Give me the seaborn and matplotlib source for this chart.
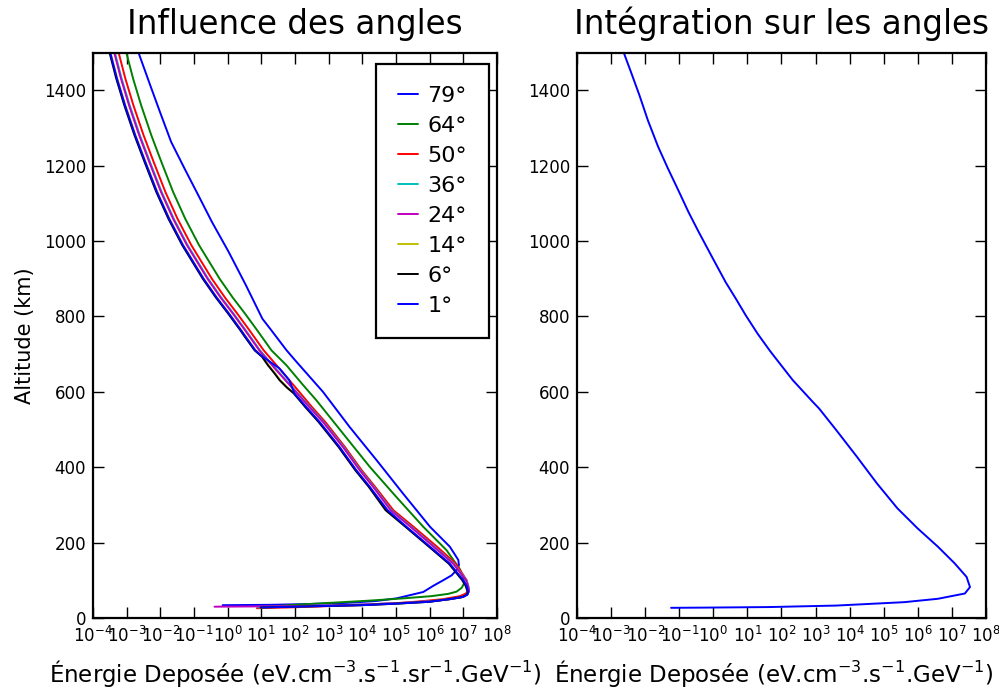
import numpy as np
import pandas as pd
import matplotlib
matplotlib.use("Agg")
import matplotlib.pyplot as plt
import seaborn as sns
from matplotlib.ticker import FixedLocator, NullLocator, LogFormatterMathtext

# ---------------- data (altitude in km, log10 of deposited energy) ----------------
angle_labels = ["79°", "64°", "50°", "36°", "24°", "14°", "6°", "1°"]
angle_colors = ["#0000ff", "#008000", "#ff0000", "#00bfbf", "#bf00bf", "#bfbf00", "#000000", "#0000ff"]

alt_79 = [1500, 1413, 1342, 1263, 1192, 1121, 1051, 971, 883, 794, 764, 710, 684, 600, 507, 419, 330, 242, 189, 154,
          140, 127, 113, 100, 85, 69, 52, 45, 40, 37, 35, 34]
le_79 = [-2.65, -2.30, -2.01, -1.68, -1.28, -0.87, -0.47, 0.03, 0.54, 1.03, 1.29, 1.75, 2.00, 2.83, 3.62, 4.42, 5.21, 6.01, 6.60, 6.85,
         6.87, 6.80, 6.65, 6.40, 6.10, 5.81, 5.01, 4.40, 3.50, 2.40, 1.30, -0.15]

alt_64 = [1500, 1431, 1360, 1281, 1210, 1130, 1059, 989, 900, 850, 808, 764, 710, 671, 620, 578, 490, 401, 321, 242,
          180, 129, 105, 91, 80, 70, 64, 58, 52, 46, 40, 35, 30, 28]
le_64 = [-3.01, -2.81, -2.57, -2.27, -1.97, -1.62, -1.26, -0.85, -0.24, 0.15, 0.51, 0.87, 1.30, 1.74, 2.22, 2.63, 3.42, 4.22, 5.01, 5.81,
         6.50, 6.90, 7.00, 7.02, 6.95, 6.80, 6.55, 6.05, 5.20, 4.20, 3.00, 2.00, 1.20, 0.90]

alt_50 = [1500, 1431, 1360, 1281, 1210, 1130, 1059, 989, 900, 850, 808, 764, 710, 660, 610, 560, 520, 454, 392, 348,
          286, 242, 189, 144, 100, 85, 75, 65, 58, 50, 44, 40, 35, 31, 28, 26]
le_50 = [-3.24, -3.04, -2.80, -2.50, -2.20, -1.85, -1.49, -1.08, -0.47, -0.08, 0.28, 0.64, 1.07, 1.55, 2.03, 2.50, 2.90, 3.48, 3.98, 4.38,
         4.92, 5.52, 6.22, 6.78, 7.10, 7.14, 7.15, 7.08, 6.90, 6.40, 5.70, 5.10, 4.00, 2.83, 1.80, 0.87]

alt_36 = [1500, 1431, 1360, 1281, 1210, 1130, 1059, 989, 900, 850, 808, 764, 710, 660, 610, 560, 520, 454, 392, 348,
          286, 242, 189, 144, 100, 85, 72, 62, 55, 50, 45, 40, 36, 33, 30, 28]
le_36 = [-3.35, -3.15, -2.91, -2.61, -2.31, -1.96, -1.60, -1.19, -0.58, -0.19, 0.17, 0.53, 0.96, 1.44, 1.94, 2.44, 2.85, 3.44, 3.94, 4.34,
         4.86, 5.45, 6.14, 6.72, 7.09, 7.15, 7.17, 7.12, 6.95, 6.60, 6.10, 5.20, 4.10, 2.80, 1.60, 0.90]

alt_24 = [1500, 1431, 1360, 1281, 1210, 1130, 1059, 989, 900, 850, 808, 764, 710, 660, 610, 560, 520, 454, 392, 348,
          286, 242, 189, 144, 100, 85, 72, 62, 55, 50, 45, 40, 36, 33, 31, 30]
le_24 = [-3.37, -3.17, -2.93, -2.63, -2.33, -1.98, -1.62, -1.21, -0.60, -0.21, 0.15, 0.51, 0.94, 1.42, 1.92, 2.42, 2.83, 3.42, 3.92, 4.32,
         4.84, 5.43, 6.12, 6.70, 7.08, 7.14, 7.17, 7.12, 6.95, 6.60, 6.10, 5.20, 4.10, 2.80, 1.30, -0.39]

alt_14 = [1500, 1431, 1360, 1281, 1210, 1130, 1059, 989, 900, 850, 808, 764, 746, 710, 693, 670, 649, 631, 612, 596,
          560, 520, 454, 392, 348, 286, 242, 189, 144, 100, 85, 69, 62, 56, 50, 43, 38, 34, 30, 28]
le_14 = [-3.48, -3.28, -3.04, -2.74, -2.44, -2.09, -1.73, -1.32, -0.71, -0.32, 0.04, 0.40, 0.54, 0.83, 1.04, 1.22, 1.41, 1.56, 1.77, 1.98,
         2.32, 2.72, 3.31, 3.81, 4.21, 4.71, 5.30, 6.00, 6.59, 6.99, 7.09, 7.14, 7.11, 6.99, 6.59, 5.99, 4.99, 3.99, 1.99, 0.99]

alt_6 = [1500, 1431, 1360, 1281, 1210, 1130, 1059, 989, 900, 850, 808, 764, 746, 710, 693, 670, 649, 631, 612, 596,
         560, 520, 454, 392, 348, 286, 242, 189, 144, 100, 85, 69, 62, 56, 50, 43, 38, 34, 30, 28]
le_6 = [-3.51, -3.31, -3.07, -2.77, -2.47, -2.12, -1.76, -1.35, -0.74, -0.35, 0.01, 0.37, 0.51, 0.80, 1.02, 1.20, 1.39, 1.54, 1.75, 1.96,
        2.30, 2.70, 3.29, 3.79, 4.19, 4.69, 5.28, 5.98, 6.57, 6.97, 7.07, 7.13, 7.10, 6.98, 6.58, 5.98, 4.98, 3.98, 1.98, 0.98]

alt_1 = [1500, 1431, 1360, 1281, 1210, 1130, 1059, 989, 900, 850, 808, 764, 746, 710, 693, 662, 631, 596, 560, 520,
         454, 392, 348, 286, 242, 189, 144, 100, 85, 69, 62, 56, 50, 43, 38, 34, 30, 28]
le_1 = [-3.49, -3.29, -3.05, -2.75, -2.45, -2.10, -1.74, -1.33, -0.72, -0.33, 0.03, 0.39, 0.53, 0.82, 1.04, 1.54, 1.83, 1.98, 2.33, 2.73,
        3.32, 3.82, 4.22, 4.75, 5.31, 6.01, 6.60, 7.00, 7.10, 7.15, 7.12, 7.00, 6.60, 6.00, 5.00, 4.00, 2.00, 1.00]

alt_int = [1500, 1449, 1387, 1320, 1250, 1192, 1135, 1077, 1024, 958, 891, 847, 803, 754, 710, 697, 631, 573, 556, 498,
           428, 357, 291, 238, 189, 145, 109, 82, 65, 51, 42, 33, 29, 27.5, 27]
le_int = [-2.63, -2.42, -2.17, -1.92, -1.62, -1.33, -1.03, -0.73, -0.43, -0.04, 0.36, 0.66, 0.95, 1.30, 1.65, 1.76, 2.33, 2.92, 3.10, 3.61,
          4.21, 4.80, 5.40, 5.99, 6.59, 7.08, 7.43, 7.53, 7.38, 6.59, 5.60, 3.61, 1.63, -0.35, -1.24]

y_ticks = [0, 200, 400, 600, 800, 1000, 1200, 1400]
x_tick_exponents = list(range(-4, 9))

# ---------------- build tables ----------------
curves = [(alt_79, le_79), (alt_64, le_64), (alt_50, le_50), (alt_36, le_36),
          (alt_24, le_24), (alt_14, le_14), (alt_6, le_6), (alt_1, le_1)]
frames = []
for lab, (a, le) in zip(angle_labels, curves):
    frames.append(pd.DataFrame({"angle": lab, "altitude": a, "energy": 10.0 ** np.array(le)}))
df = pd.concat(frames, ignore_index=True)
df_int = pd.DataFrame({"altitude": alt_int, "energy": 10.0 ** np.array(le_int)})

# ---------------- style ----------------
sns.set_style("ticks")
plt.rcParams["font.family"] = ["DejaVu Sans"]
plt.rcParams.update({
    "xtick.direction": "in", "ytick.direction": "in",
    "xtick.top": True, "ytick.right": True,
    "xtick.major.size": 8, "ytick.major.size": 8,
    "xtick.major.width": 1.0, "ytick.major.width": 1.0,
    "xtick.major.pad": 6, "ytick.major.pad": 5,
    "axes.linewidth": 1.6, "axes.edgecolor": "black",
    "xtick.color": "black", "ytick.color": "black",
    "xtick.labelcolor": "black", "ytick.labelcolor": "black",
    "text.color": "black", "axes.labelcolor": "black", "axes.titlecolor": "black",
    "xtick.labelsize": 12, "ytick.labelsize": 12,
})

W, H = 999, 690
fig = plt.figure(figsize=(W / 100, H / 100), dpi=100)
ax1 = fig.add_axes([93 / W, 1 - 618 / H, 404 / W, 565.5 / H])
ax2 = fig.add_axes([577 / W, 1 - 618 / H, 409 / W, 565.5 / H])

palette = dict(zip(angle_labels, angle_colors))
for ax in (ax1, ax2):
    ax.set_xscale("log")

sns.lineplot(data=df, x="energy", y="altitude", hue="angle", hue_order=angle_labels,
             palette=palette, sort=False, estimator=None, units="angle", lw=1.4, ax=ax1)
sns.lineplot(data=df_int, x="energy", y="altitude", sort=False, estimator=None,
             color="#0000ff", lw=1.4, ax=ax2)

xlabels = ["Énergie Deposée (eV.cm$^{-3}$.s$^{-1}$.sr$^{-1}$.GeV$^{-1}$)",
           "Énergie Deposée (eV.cm$^{-3}$.s$^{-1}$.GeV$^{-1}$)"]
titles = ["Influence des angles", "Intégration sur les angles"]
for ax, xl, tt in zip((ax1, ax2), xlabels, titles):
    ax.set_xlim(1e-4, 1e8)
    ax.set_ylim(0, 1500)
    ax.xaxis.set_major_locator(FixedLocator([10.0 ** e for e in x_tick_exponents]))
    ax.xaxis.set_major_formatter(LogFormatterMathtext())
    ax.xaxis.set_minor_locator(NullLocator())
    ax.yaxis.set_major_locator(FixedLocator(y_ticks))
    ax.set_xlabel(xl, fontsize=16.5, labelpad=8)
    ax.set_ylabel("")
    ax.set_title(tt, fontsize=23.5, pad=13)
    for sp in ax.spines.values():
        sp.set_visible(True)
        sp.set_color("black")

# the right-hand label sits slightly left of centre in the reference
ax2.xaxis.label.set_x((774 - 577) / 409)

ax1.set_ylabel("Altitude (km)", fontsize=15, labelpad=6)

handles, labels = ax1.get_legend_handles_labels()
leg = ax1.legend(handles, labels, loc="upper right", bbox_to_anchor=(0.980, 0.980),
                 borderaxespad=0, fontsize=16, frameon=True, fancybox=False,
                 handlelength=0.9, handletextpad=0.4, labelspacing=0.45, borderpad=1.0)
leg.get_frame().set_edgecolor("black")
leg.get_frame().set_linewidth(1.6)
leg.get_frame().set_alpha(1)

fig.savefig("out.png", dpi=100)
